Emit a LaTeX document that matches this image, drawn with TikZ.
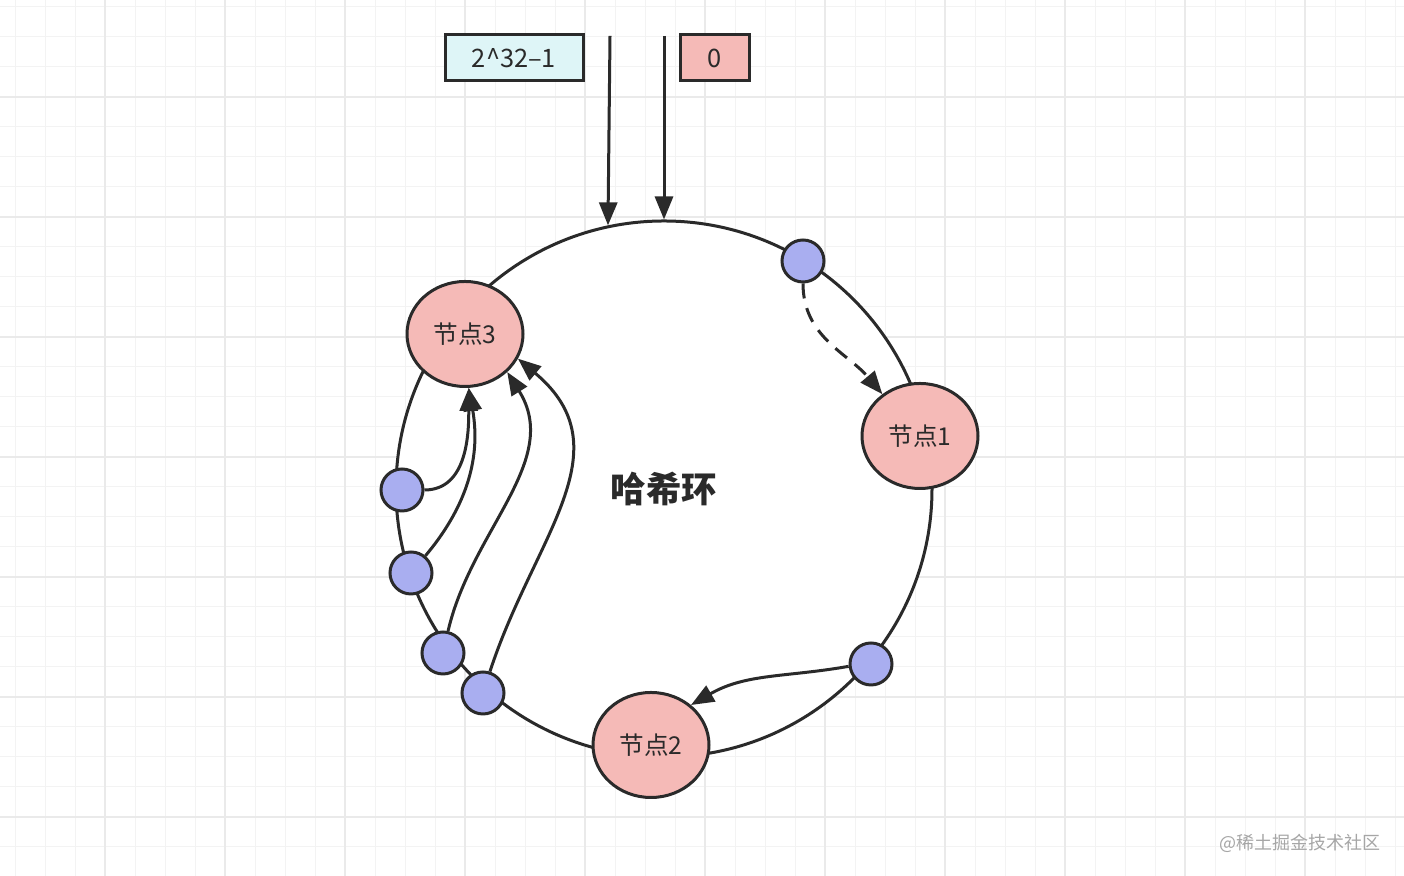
\documentclass[tikz,border=0pt]{standalone}
\usepackage{fontspec}
\setmainfont{Noto Sans CJK SC}
\usetikzlibrary{arrows.meta, positioning, shapes.geometric}
\definecolor{nodepink}{RGB}{245,186,183}
\definecolor{keyblue}{RGB}{169,174,240}
\definecolor{boxcyan}{RGB}{222,245,247}
\definecolor{inkgray}{RGB}{42,42,42}
\definecolor{gridminor}{RGB}{243,243,243}
\definecolor{gridmajor}{RGB}{234,234,234}
\tikzset{
  x=0.5pt, y=0.5pt, % one unit is one pixel of the sketch
  server/.style={draw=inkgray, ellipse, line width=1.5pt, fill=nodepink,
    minimum width=58pt, minimum height=52.5pt, inner sep=0pt,
    font=\fontsize{12.3}{14}\selectfont, text=inkgray}, % the server ellipses
  key/.style={draw=inkgray, circle, line width=1.5pt, fill=keyblue,
    minimum size=21pt, inner sep=0pt}, % a hashed key sitting on the ring
  valbox/.style={draw=inkgray, rectangle, line width=1.5pt, minimum height=23pt,
    inner sep=0pt, font=\fontsize{12.7}{14}\selectfont, text=inkgray},
}

\begin{document}
\begin{tikzpicture}[>={Triangle[length=11.5pt,width=9pt]},
    wire/.style={->, line width=1.5pt, draw=inkgray}]
    \useasboundingbox (0,0) rectangle (1404,876);
    \fill[white] (0,0) rectangle (1404,876);
    % paper grid
    \foreach \x in {15,45,...,1395} \draw[gridminor, line width=0.5pt] (\x,0) -- (\x,876);
    \foreach \y in {29,59,...,869} \draw[gridminor, line width=0.5pt] (0,\y) -- (1404,\y);
    \foreach \x in {105,225,...,1305} \draw[gridmajor, line width=0.8pt] (\x,0) -- (\x,876);
    \foreach \y in {59,179,...,779} \draw[gridmajor, line width=0.8pt] (0,\y) -- (1404,\y);

    \node[draw=inkgray, circle, line width=1.5pt, fill=white, minimum size=268pt,
      inner sep=0pt, text=inkgray, font=\bfseries\fontsize{17.7}{20}\selectfont]
      (ring) at (664,387) {哈希环};

    \node[valbox, fill=boxcyan, minimum width=69pt] (max) at (514,818) {2\^{}32–1};
    \node[valbox, fill=nodepink, minimum width=34.5pt] (zero) at (714.5,818) {0};
    \coordinate (in max) at (610,840);
    \coordinate (in zero) at (664,840);

    \node[server] (n3) at (465,542) {节点3};
    \node[server] (n1) at (920,440) {节点1};
    \node[server] (n2) at (651,131) {节点2};

    \node[key] (k1) at (803,615) {};
    \node[key] (k2) at (871,212) {};
    \node[key] (c1) at (402,386) {};
    \node[key] (c2) at (411,303) {};
    \node[key] (c3) at (443,223) {};
    \node[key] (c4) at (483,183) {};

    \path[every edge/.append style={wire}]
    (in max) edge (ring.102)
    (in zero) edge (ring.90)

    (c1.0) edge[out=0, in=-90] (n3.-86)
    (c2.50) edge[out=50, in=-80] (n3.-86)
    (c3.77) edge[out=77, in=-58] (n3.-42)
    (c4.72) edge[out=72, in=-40, looseness=1.15] (n3.-25)

    (k2.186) edge[out=190, in=30] (n2.45)

    (k1.south) edge[out=-90, in=130, dash pattern=on 7.5pt off 5pt] (n1.132)
    ;

    \node[text=black!35, font=\fontsize{9}{10}\selectfont] (mark) at (1300,33) {@稀土掘金技术社区};
\end{tikzpicture}
\end{document}
